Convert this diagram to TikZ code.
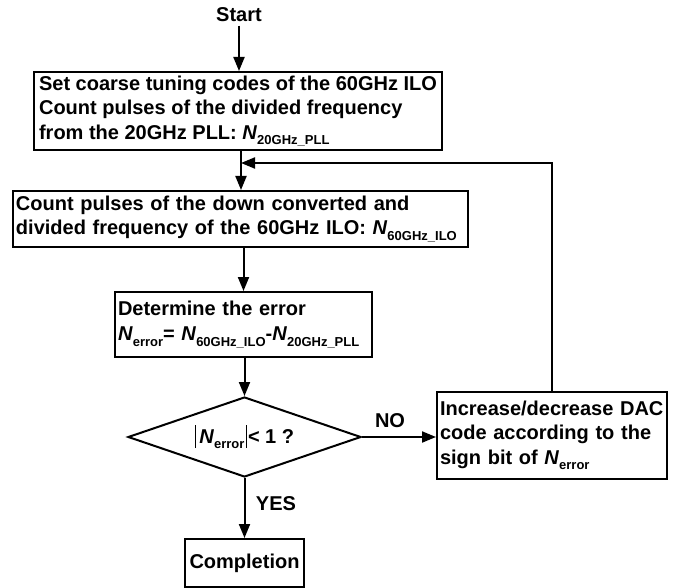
\documentclass[tikz,border=0pt]{standalone}
\usepackage{fontspec}
\setmainfont{Liberation Sans}
\usetikzlibrary{shapes.geometric,arrows.meta}
\newcommand\mysub[1]{\raisebox{-0.28em}{\fontsize{13}{13}\selectfont #1}}
\newcommand\myN{\textit{N}}
\newcommand\mybar{\rule[-5pt]{1.5pt}{23pt}}
\begin{document}
\begin{tikzpicture}[x=1pt,y=-1pt,
  every node/.style={font=\fontsize{20}{24.5}\selectfont\bfseries},
  box/.style={draw, line width=2pt, inner sep=3pt, align=left},
  arr/.style={line width=2pt, -{Triangle[length=14pt,width=11pt]}}]
\useasboundingbox (0,0) rectangle (677,588);

\node (start) at (239,15) {Start};

\node[box, minimum width=408pt, minimum height=78pt] (b1) at (238,111)
  {Set coarse tuning codes of the 60GHz ILO\\
   Count pulses of the divided frequency\\
   from the 20GHz PLL: \myN\mysub{20GHz\_PLL}};

\node[box, text width=449pt, minimum height=56pt] (b2) at (240.5,219)
  {Count pulses of the down converted and\\
   divided frequency of the 60GHz ILO: \myN\mysub{60GHz\_ILO}};

\node[box, text width=251pt, minimum height=65pt] (b3) at (243.5,324.5)
  {Determine the error\\
   \myN\mysub{error}= \myN\mysub{60GHz\_ILO}-\myN\mysub{20GHz\_PLL}};

\node[draw, line width=2pt, shape=diamond, shape aspect=2.9, inner sep=0pt,
      minimum width=233pt, minimum height=80pt] (dia) at (244.5,437)
  {\mybar\hspace{3pt}\myN\mysub{error}\hspace{1pt}\mybar\hspace{1pt}< 1 ?};

\node[box, text width=224pt, minimum height=87pt] (inc) at (552,435.5)
  {Increase/decrease DAC\\
   code according to the\\
   sign bit of \myN\mysub{error}};

\node[box, inner sep=4.5pt, minimum width=119pt, minimum height=48pt, align=center] (done) at (244.5,563)
  {Completion};

\node (no) at (390,421) {NO};
\node (yes) at (276,504) {YES};

\coordinate (fb) at (241,163);

\draw[arr] (start.south) -- (start.south |- b1.north);
\draw[arr] (b1.south -| fb) -- (b2.north -| fb);
\draw[arr] (b2.south -| b3.north) -- (b3.north);
\draw[arr] (b3.south -| dia.north) -- (dia.north);
\draw[arr] (dia.south) -- (dia.south |- done.north);
\draw[arr] (dia.east) -- (dia.east -| inc.west);
\draw[arr] (inc.north) -- (inc.north |- fb) -- (fb);
\end{tikzpicture}
\end{document}
